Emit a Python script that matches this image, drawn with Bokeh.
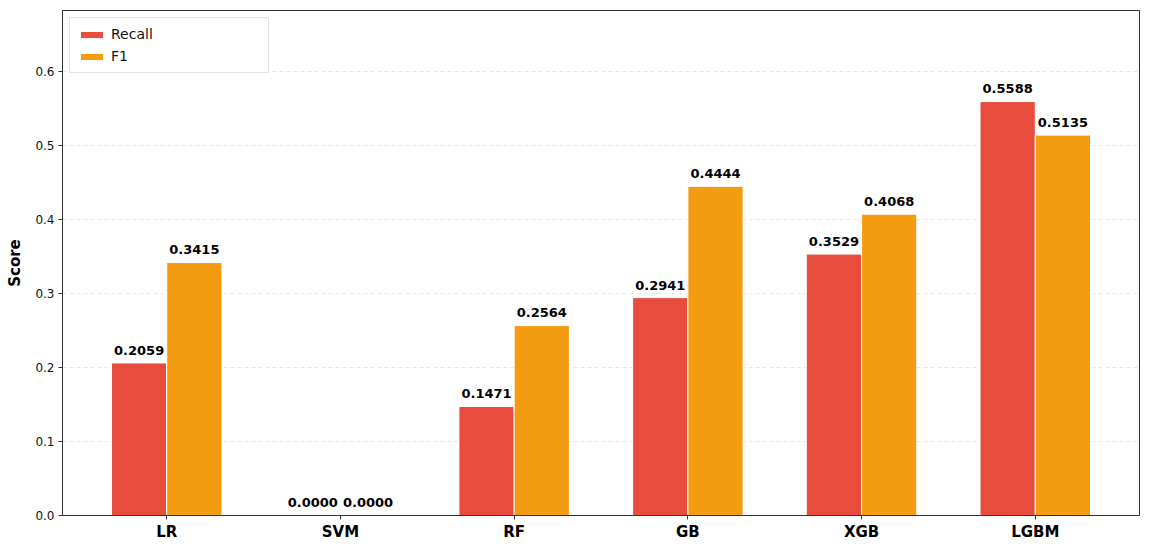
import numpy as np
from bokeh.plotting import figure
from bokeh.models import ColumnDataSource, Range1d, FixedTicker, PrintfTickFormatter, Legend, LegendItem
from bokeh.core.properties import value
from bokeh.embed import file_html
from bokeh.resources import INLINE

models = ["LR", "SVM", "RF", "GB", "XGB", "LGBM"]
recall = [0.2059, 0.0000, 0.1471, 0.2941, 0.3529, 0.5588]
f1 = [0.3415, 0.0000, 0.2564, 0.4444, 0.4068, 0.5135]
y_ticks = [0.0, 0.1, 0.2, 0.3, 0.4, 0.5, 0.6]

RED = "#e74c3c"
ORANGE = "#f39c12"
BAR_W = 0.318
OFF = 0.159
LABEL_PAD = 0.017

x = np.arange(len(models))
ymax = max(max(recall), max(f1)) * 1.22

src = ColumnDataSource(dict(
    xr=x - OFF, xf=x + OFF,
    recall=recall, f1=f1,
    rl=[f"{v:.4f}" for v in recall], fl=[f"{v:.4f}" for v in f1],
    ry=[v + LABEL_PAD for v in recall], fy=[v + LABEL_PAD for v in f1],
))

p = figure(width=1144, height=543, output_backend="svg", toolbar_location=None,
           x_range=Range1d(-0.6, len(models) - 0.4), y_range=Range1d(0, ymax),
           min_border_left=62, min_border_right=5, min_border_top=10, min_border_bottom=20)

r1 = p.vbar(x="xr", top="recall", width=BAR_W, source=src, fill_color=RED, line_color="white", line_width=1)
r2 = p.vbar(x="xf", top="f1", width=BAR_W, source=src, fill_color=ORANGE, line_color="white", line_width=1)

for xc, yc, tc in (("xr", "ry", "rl"), ("xf", "fy", "fl")):
    p.text(x=xc, y=yc, text=tc, source=src, text_align="center", text_baseline="alphabetic",
           text_font=value("DejaVu Sans"), text_font_style="bold", text_font_size="13px", text_color="black")

# axes
p.xaxis.ticker = FixedTicker(ticks=list(x))
p.xaxis.major_label_overrides = {int(i): m for i, m in zip(x, models)}
p.xaxis.major_label_text_font = "DejaVu Sans"
p.xaxis.major_label_text_font_style = "bold"
p.xaxis.major_label_text_font_size = "15px"
p.xaxis.major_label_text_color = "black"
p.xaxis.major_label_standoff = 3
p.xaxis.minor_tick_line_color = None

p.yaxis.ticker = FixedTicker(ticks=y_ticks)
p.yaxis.formatter = PrintfTickFormatter(format="%.1f")
p.yaxis.major_label_text_font = "DejaVu Sans"
p.yaxis.major_label_text_font_size = "12px"
p.yaxis.major_label_text_color = "#111111"
p.yaxis.minor_tick_line_color = None
p.yaxis.axis_label = "Score"
p.yaxis.axis_label_text_font = "DejaVu Sans"
p.yaxis.axis_label_text_font_style = "bold"
p.yaxis.axis_label_text_font_size = "15px"
p.yaxis.axis_label_text_color = "black"
p.yaxis.axis_label_standoff = 8
p.yaxis.major_label_standoff = 4

for ax in (p.xaxis, p.yaxis):
    ax.axis_line_color = "#333333"
    ax.major_tick_line_color = "#333333"
    ax.major_tick_in = 0
    ax.major_tick_out = 4

p.outline_line_color = "#333333"
p.outline_line_width = 1
p.outline_line_alpha = 1

p.xgrid.grid_line_color = None
p.ygrid.grid_line_color = "#cccccc"
p.ygrid.grid_line_alpha = 0.45
p.ygrid.grid_line_dash = "4 3"
p.ygrid.ticker = FixedTicker(ticks=y_ticks)

legend = Legend(items=[LegendItem(label="Recall", renderers=[r1]), LegendItem(label="F1", renderers=[r2])],
                location="top_left")
legend.label_text_font = "DejaVu Sans"
legend.label_text_font_size = "14px"
legend.label_text_color = "#111111"
legend.label_width = 150
legend.glyph_width = 29
legend.glyph_height = 9
legend.label_height = 18
legend.spacing = 4
legend.padding = 7
legend.margin = 7
legend.border_line_color = "#cccccc"
legend.border_line_width = 1
legend.background_fill_alpha = 0.8
p.add_layout(legend)

open("out.html", "w").write(file_html(p, INLINE))
